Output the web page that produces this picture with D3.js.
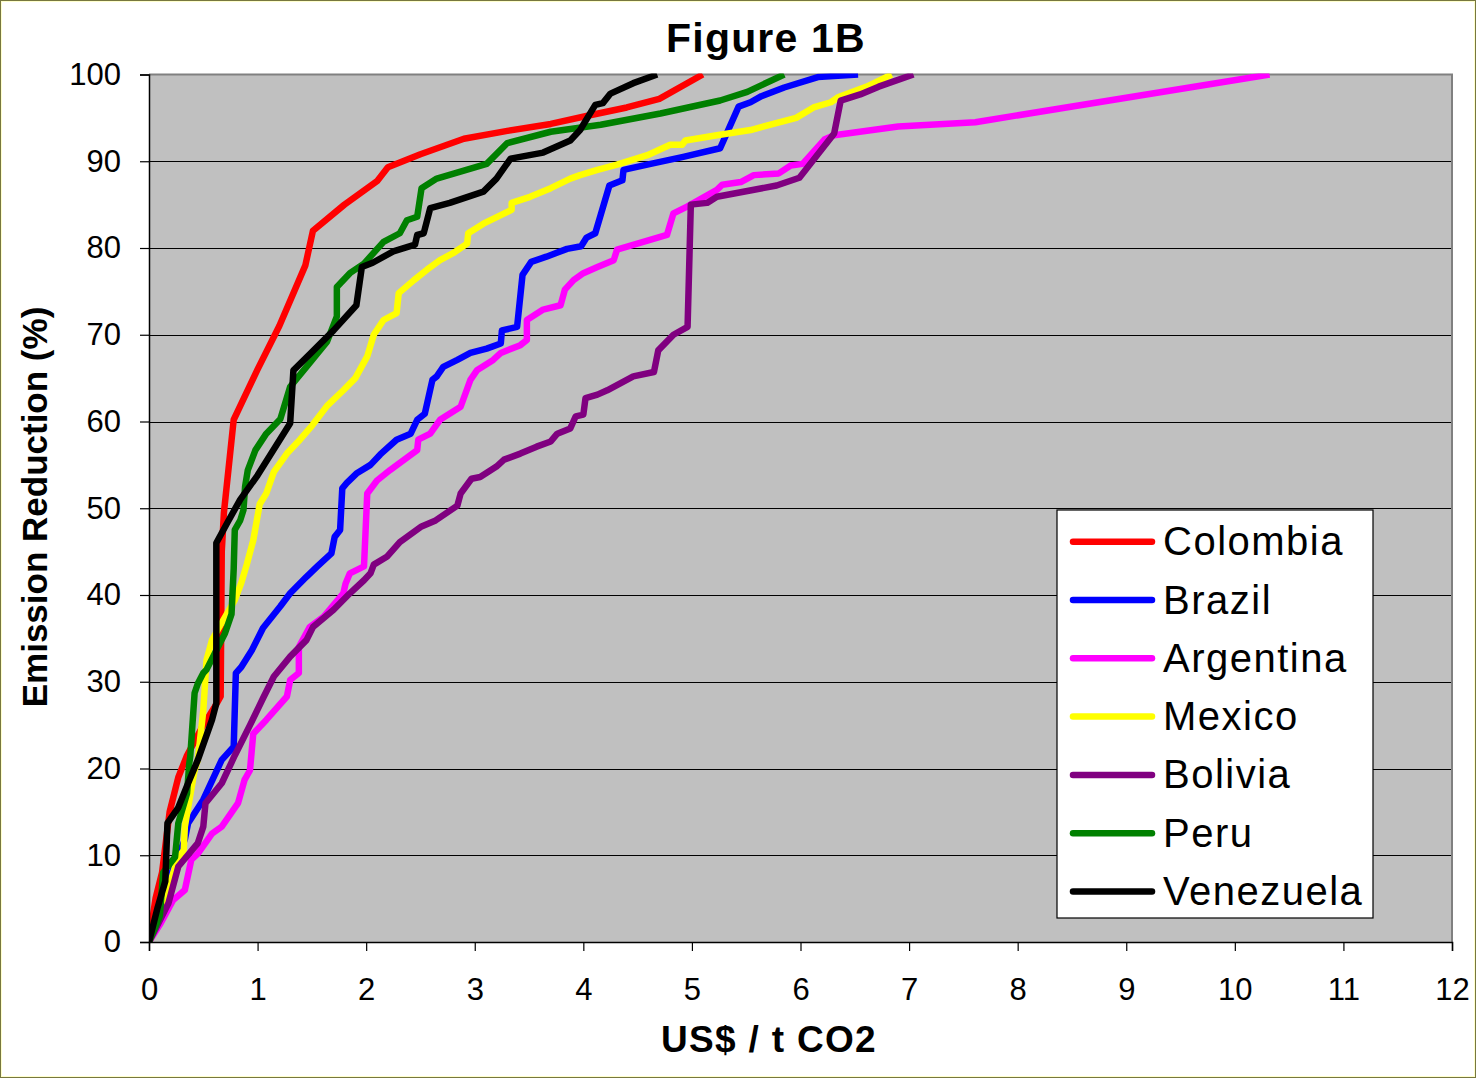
<!DOCTYPE html>
<html>
<head>
<meta charset="utf-8">
<script src="https://cdn.jsdelivr.net/npm/d3@7"></script>
<style>
  html, body { margin: 0; padding: 0; background: #ffffff; }
  svg { display: block; }
  text { font-family: "Liberation Sans", Arial, sans-serif; fill: #000; }
</style>
</head>
<body>
<svg id="chart" width="1476" height="1078"></svg>
<script>
// ---- Data (US$/t CO2, Emission Reduction %) ----
const colombia = [[0,0],[0.06,5],[0.12,8],[0.19,15],[0.27,19],[0.35,21.5],[0.5,25],[0.6,27],[0.66,28.3],[0.67,45],[0.69,49.5],[0.78,60.2],[1.0,66],[1.2,71],[1.44,78],[1.51,82],[1.8,85],[2.1,87.7],[2.2,89.3],[2.5,90.8],[2.9,92.6],[3.3,93.5],[3.7,94.3],[4.06,95.3],[4.4,96.2],[4.7,97.2],[5.1,100]];
const brazil = [[0,0],[0.1,3],[0.19,7.5],[0.22,8.3],[0.33,11.8],[0.36,13.7],[0.5,16.4],[0.67,21],[0.78,22.5],[0.8,31],[0.85,31.7],[0.95,33.7],[1.05,36.2],[1.21,38.7],[1.3,40.2],[1.45,42.1],[1.55,43.3],[1.68,44.8],[1.71,46.7],[1.76,47.5],[1.78,52.3],[1.82,52.9],[1.91,54],[2.04,55],[2.13,56.2],[2.28,57.9],[2.41,58.6],[2.47,60.2],[2.54,60.9],[2.61,64.8],[2.65,65.2],[2.71,66.3],[2.84,67.1],[2.96,67.9],[3.11,68.4],[3.24,69],[3.25,70.5],[3.39,70.9],[3.44,76.9],[3.52,78.4],[3.66,79],[3.85,79.9],[3.98,80.2],[4.03,81.2],[4.11,81.7],[4.24,87.2],[4.36,87.8],[4.37,89],[4.62,89.7],[4.92,90.5],[5.26,91.5],[5.43,96.3],[5.54,96.8],[5.64,97.5],[5.85,98.5],[6.16,99.7],[6.53,100]];
const argentina = [[0,0],[0.1,2],[0.22,4.8],[0.33,6],[0.39,9.5],[0.45,10.2],[0.58,12.5],[0.67,13.3],[0.82,16],[0.88,18.7],[0.93,19.8],[0.96,24],[1.08,25.6],[1.27,28.3],[1.3,30.2],[1.38,31],[1.38,34],[1.48,36.3],[1.61,37.5],[1.79,40.2],[1.81,41.3],[1.85,42.5],[1.98,43.3],[2.01,51.7],[2.1,53.2],[2.22,54.4],[2.47,56.7],[2.48,57.9],[2.59,58.6],[2.68,60.2],[2.87,61.7],[2.96,64.8],[3.02,65.9],[3.17,67.1],[3.24,67.9],[3.42,68.8],[3.48,69.4],[3.48,71.7],[3.63,72.9],[3.79,73.4],[3.83,75.2],[3.91,76.3],[4.0,77.1],[4.13,77.8],[4.28,78.6],[4.31,79.8],[4.77,81.5],[4.83,84],[4.96,84.8],[5.23,86.7],[5.28,87.3],[5.45,87.6],[5.57,88.4],[5.8,88.6],[5.91,89.5],[6.02,89.7],[6.22,92.5],[6.31,93],[6.9,94],[7.61,94.5],[10.32,100]];
const mexico = [[0,0],[0.1,3],[0.2,7],[0.26,9.5],[0.32,10.6],[0.33,13.3],[0.42,19.8],[0.45,21],[0.5,26.7],[0.53,32.5],[0.58,34.8],[0.67,36.8],[0.79,39.4],[0.85,41.4],[0.9,43.5],[0.96,46.3],[1.02,50.5],[1.08,51.7],[1.15,54.2],[1.27,56.3],[1.39,57.9],[1.5,59.5],[1.64,61.8],[1.79,63.6],[1.9,65],[2.01,67.5],[2.07,70],[2.16,71.7],[2.28,72.5],[2.3,74.8],[2.44,76.3],[2.56,77.5],[2.68,78.6],[2.8,79.4],[2.93,80.5],[2.94,81.7],[3.08,82.8],[3.24,83.8],[3.34,84.4],[3.34,85.2],[3.51,85.9],[3.7,86.9],[3.88,88],[3.97,88.4],[4.13,89],[4.31,89.6],[4.59,90.7],[4.8,91.9],[4.91,91.9],[4.94,92.4],[5.23,93],[5.54,93.6],[5.96,95],[6.12,96.2],[6.28,96.8],[6.35,97.4],[6.61,98.6],[6.84,100]];
const bolivia = [[0,0],[0.1,2.5],[0.18,4.5],[0.27,8.7],[0.45,11.4],[0.5,13.3],[0.52,16],[0.67,18.3],[0.79,21.5],[0.93,25],[1.05,28.1],[1.15,30.6],[1.3,32.9],[1.45,34.8],[1.51,36.3],[1.7,38.3],[1.85,40.2],[1.98,41.7],[2.04,42.5],[2.07,43.5],[2.19,44.4],[2.31,46.1],[2.51,47.9],[2.64,48.6],[2.84,50.3],[2.87,51.7],[2.97,53.4],[3.05,53.6],[3.2,54.8],[3.27,55.6],[3.42,56.3],[3.57,57.1],[3.7,57.7],[3.76,58.6],[3.88,59.2],[3.93,60.6],[4.0,60.8],[4.02,62.7],[4.13,63.1],[4.22,63.6],[4.46,65.2],[4.65,65.7],[4.69,68.2],[4.83,70],[4.96,70.9],[4.99,85],[5.14,85.2],[5.23,85.9],[5.78,87.2],[5.99,88.1],[6.31,93.2],[6.37,97],[6.55,97.7],[6.72,98.6],[7.04,100]];
const peru = [[0,0],[0.1,3],[0.13,8],[0.24,9.8],[0.27,13.7],[0.35,17.1],[0.37,20.5],[0.38,21.4],[0.42,28.7],[0.45,29.8],[0.5,31],[0.53,31.4],[0.7,35.6],[0.76,37.8],[0.78,43],[0.79,47.5],[0.84,48.6],[0.87,49.8],[0.885,52.5],[0.91,54.4],[0.98,56.7],[1.08,58.6],[1.21,60.3],[1.3,64],[1.45,66.3],[1.64,69.2],[1.73,72.1],[1.73,75.5],[1.85,77.1],[1.98,78.2],[2.16,80.7],[2.31,81.7],[2.375,83.2],[2.47,83.6],[2.51,86.9],[2.65,88],[3.11,89.7],[3.3,92.1],[3.7,93.4],[4.16,94.2],[4.71,95.5],[5.26,97],[5.51,98],[5.85,100]];
const venezuela = [[0,0],[0.08,4],[0.15,7],[0.17,13.7],[0.27,15.5],[0.35,18],[0.45,21],[0.58,25.6],[0.62,27.5],[0.62,46],[0.72,48.3],[0.84,51],[1.0,53.8],[1.3,59.8],[1.33,65.9],[1.5,68],[1.7,70.5],[1.91,73.4],[1.96,77.8],[2.06,78.3],[2.25,79.6],[2.45,80.4],[2.47,81.5],[2.53,81.7],[2.59,84.6],[2.77,85.2],[3.08,86.5],[3.2,88],[3.33,90.3],[3.63,91],[3.88,92.4],[3.97,93.6],[4.11,96.5],[4.18,96.7],[4.25,97.8],[4.46,99],[4.68,100]];

const seriesNames = ["Colombia","Brazil","Argentina","Mexico","Bolivia","Peru","Venezuela"];
const seriesData = [colombia, brazil, argentina, mexico, bolivia, peru, venezuela];
const seriesColors = ["#ff0000","#0000ff","#ff00ff","#ffff00","#800080","#008000","#000000"];
const xTicks = [0,1,2,3,4,5,6,7,8,9,10,11,12];
const yTicks = [0,10,20,30,40,50,60,70,80,90,100];
const titleText = "Figure 1B";
const xTitle = "US$ / t CO2";
const yTitle = "Emission Reduction (%)";

// ---- Layout ----
const W = 1476, H = 1078;
const plot = {left: 149, right: 1452, top: 74.5, bottom: 942};
const svg = d3.select("#chart");

// outer frame
svg.append("rect").attr("x",0.5).attr("y",0.5).attr("width",W-1).attr("height",H-1)
  .attr("fill","#ffffff").attr("stroke","#77773f").attr("stroke-width",1);
svg.append("rect").attr("x",1.5).attr("y",1.5).attr("width",W-3).attr("height",H-3)
  .attr("fill","none").attr("stroke","#ffffcc").attr("stroke-width",1);

const x = d3.scaleLinear().domain([0,12]).range([plot.left, plot.right]);
const y = d3.scaleLinear().domain([0,100]).range([plot.bottom, plot.top]);

// plot background
svg.append("rect").attr("x",plot.left).attr("y",plot.top)
  .attr("width",plot.right-plot.left).attr("height",plot.bottom-plot.top)
  .attr("fill","#c0c0c0");

// gridlines
svg.append("g").selectAll("line").data(yTicks.filter(d=>d>0 && d<100)).join("line")
  .attr("x1",plot.left).attr("x2",plot.right)
  .attr("y1",d=>Math.round(y(d))+0.5).attr("y2",d=>Math.round(y(d))+0.5)
  .attr("stroke","#000").attr("stroke-width",1);

// top/right border gray
svg.append("path")
  .attr("d",`M${plot.left},${plot.top}H${plot.right}V${plot.bottom}`)
  .attr("fill","none").attr("stroke","#808080").attr("stroke-width",2);

// clip for series
svg.append("clipPath").attr("id","clip").append("rect")
  .attr("x",plot.left).attr("y",plot.top-1).attr("width",plot.right-plot.left).attr("height",plot.bottom-plot.top+1);

const line = d3.line().x(d=>x(d[0])).y(d=>y(d[1]));
const gLines = svg.append("g").attr("clip-path","url(#clip)");
seriesData.forEach((data,i)=>{
  gLines.append("path").datum(data)
    .attr("d",line)
    .attr("fill","none")
    .attr("stroke",seriesColors[i])
    .attr("stroke-width",6.5)
    .attr("stroke-linejoin","round")
    .attr("stroke-linecap","butt");
});

// axes
const xAxis = d3.axisBottom(x).tickValues(xTicks).tickSize(9).tickPadding(27).tickFormat(d3.format("d"));
const yAxis = d3.axisLeft(y).tickValues(yTicks).tickSize(9).tickPadding(19).tickFormat(d3.format("d"));
const gx = svg.append("g").attr("transform",`translate(0,${plot.bottom})`).call(xAxis);
const gy = svg.append("g").attr("transform",`translate(${plot.left},0)`).call(yAxis);
[gx,gy].forEach(g=>{
  g.select(".domain").attr("stroke","#000").attr("stroke-width",1.5);
  g.selectAll(".tick line").attr("stroke","#000").attr("stroke-width",1.2);
  g.selectAll(".tick text").attr("font-size",31).attr("fill","#000")
    .attr("font-family","'Liberation Sans', Arial, sans-serif");
});
gx.selectAll(".tick text").attr("dy","0.71em");

// title
svg.append("text").attr("x",766).attr("y",52).attr("text-anchor","middle")
  .attr("font-size",41).attr("font-weight","bold").attr("letter-spacing",1.2).text(titleText);
// x title
svg.append("text").attr("x",769).attr("y",1052).attr("text-anchor","middle")
  .attr("font-size",37).attr("font-weight","bold").attr("letter-spacing",1.3).text(xTitle);
// y title
svg.append("text").attr("transform","translate(47,507) rotate(-90)").attr("text-anchor","middle")
  .attr("font-size",35).attr("font-weight","bold").text(yTitle);

// legend
const lg = svg.append("g");
lg.append("rect").attr("x",1057).attr("y",510).attr("width",316).attr("height",408)
  .attr("fill","#ffffff").attr("stroke","#000").attr("stroke-width",1.2);
seriesNames.forEach((name,i)=>{
  const ly = 541.7 + i*58.3;
  lg.append("line").attr("x1",1073).attr("x2",1152).attr("y1",ly).attr("y2",ly)
    .attr("stroke",seriesColors[i]).attr("stroke-width",6.5).attr("stroke-linecap","round");
  lg.append("text").attr("x",1163).attr("y",ly+13.5).attr("font-size",40)
    .attr("letter-spacing",1.5).text(name);
});
</script>
</body>
</html>
